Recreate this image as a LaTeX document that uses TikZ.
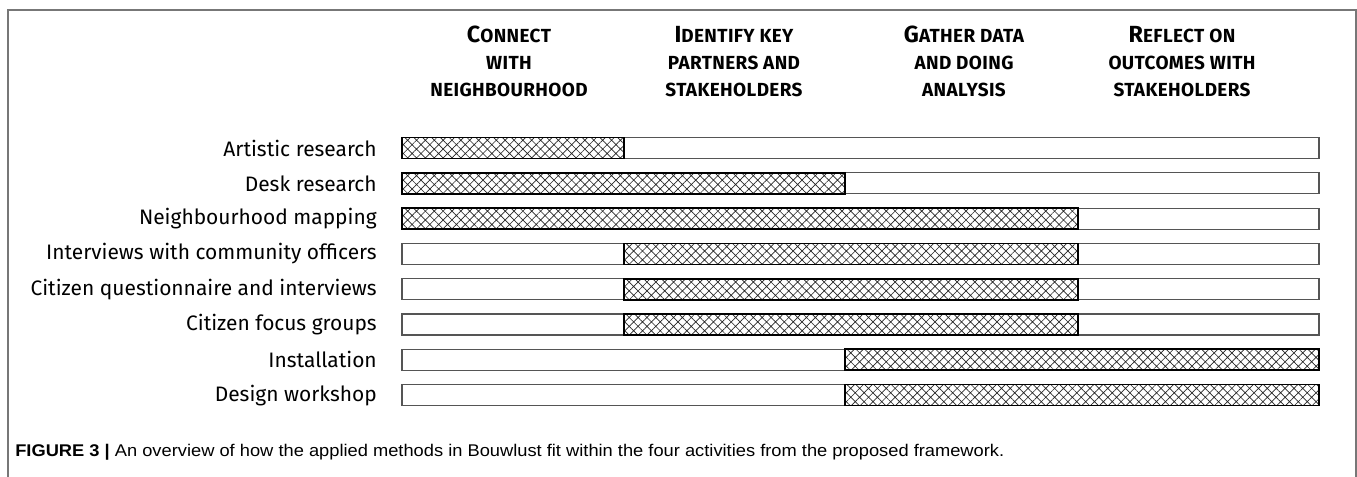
\documentclass[tikz,border=0pt]{standalone}
\usepackage{fontspec}
\setmainfont{Fira Sans}
\newfontfamily\capfont{Liberation Sans}[FakeStretch=1.08]
\newfontfamily\headfont{Fira Sans}[LetterSpace=2]
\usetikzlibrary{patterns.meta}
\definecolor{framegray}{HTML}{777777}
\definecolor{bargray}{HTML}{555555}
\newcommand\hdcap[2]{{\fontsize{17.5}{21}\selectfont #1}{\fontsize{14.2}{21}\selectfont #2}}
\tikzset{
  head/.style={inner sep=0pt, font=\headfont\fontsize{14.2}{21}\selectfont\bfseries, anchor=base},
  lbl/.style={anchor=east, inner sep=0pt, font=\fontsize{15.7}{18}\selectfont},
  plainbar/.style={draw=bargray, line width=0.8pt, fill=white},
  hatchbar/.style={draw=black, line width=1.3pt, pattern={Hatch[angle=45,distance=4.7pt,line width=0.5pt]}, pattern color=black!85},
}
\begin{document}
\begin{tikzpicture}[x=0.75pt,y=-0.75pt]
\useasboundingbox (0,0) rectangle (1357,477);
\draw[framegray, line width=1.5pt] (7.5,477) -- (7.5,10) -- (1355.5,10) -- (1355.5,477);
% headers
\node[head] (h1a) at (509,43) {\hdcap{C}{ONNECT}};
\node[head] (h1b) at (509,70) {WITH};
\node[head] (h1c) at (509,97) {NEIGHBOURHOOD};
\node[head] (h2a) at (734,43) {\hdcap{I}{DENTIFY KEY}};
\node[head] (h2b) at (734,70) {PARTNERS AND};
\node[head] (h2c) at (734,97) {STAKEHOLDERS};
\node[head] (h3a) at (964,43) {\hdcap{G}{ATHER DATA}};
\node[head] (h3b) at (964,70) {AND DOING};
\node[head] (h3c) at (964,97) {ANALYSIS};
\node[head] (h4a) at (1182,43) {\hdcap{R}{EFLECT ON}};
\node[head] (h4b) at (1182,70) {OUTCOMES WITH};
\node[head] (h4c) at (1182,97) {STAKEHOLDERS};
% rows
\foreach \i/\txt/\s/\e in {
  0/Artistic research/402/624,
  1/Desk research/402/845,
  2/Neighbourhood mapping/402/1078,
  3/Interviews with community officers/624/1078,
  4/Citizen questionnaire and interviews/624/1078,
  5/Citizen focus groups/624/1078,
  6/Installation/845/1319,
  7/Design workshop/845/1319}{
  \pgfmathsetmacro\yc{148+35.3*\i}
  \node[lbl] (l\i) at (377,\yc) {\txt};
  \draw[plainbar] (402,\yc-10.5) rectangle (1319,\yc+10.5);
  \draw[hatchbar] (\s,\yc-10.5) rectangle (\e,\yc+10.5);
}
% caption
\node[anchor=base west, inner sep=0pt, font=\capfont\fontsize{12.7}{14}\selectfont] (cap) at (15,456)
  {\textbf{FIGURE 3 |} An overview of how the applied methods in Bouwlust fit within the four activities from the proposed framework.};
\end{tikzpicture}
\end{document}
